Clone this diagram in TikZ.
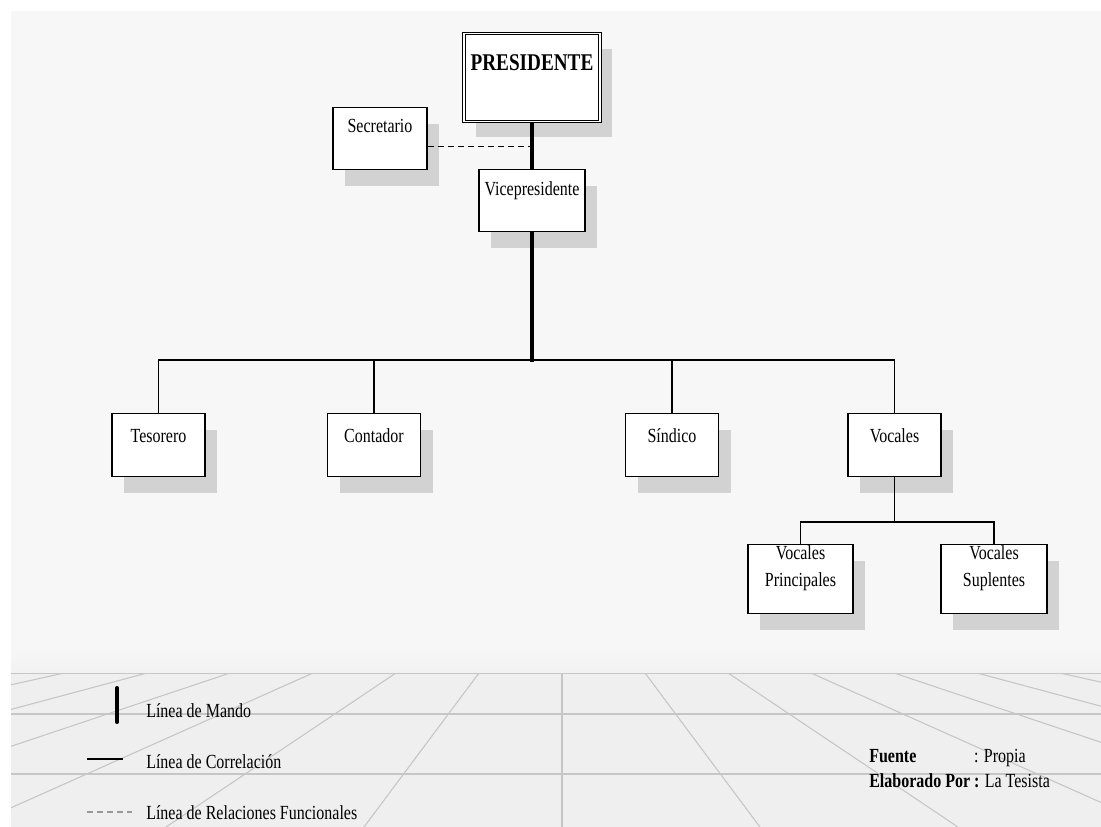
\documentclass[tikz,border=0pt]{standalone}
\usepackage{fontspec}
\setmainfont{Liberation Serif}[FakeStretch=0.8]
\usetikzlibrary{calc,shadows}

\definecolor{fondo}{HTML}{F7F7F7}
\definecolor{piso}{HTML}{EFEFEF}
\definecolor{rejilla}{HTML}{C6C6C6}
\definecolor{sombra}{HTML}{D2D2D2}

\begin{document}
\begin{tikzpicture}[x=0.75pt, y=-0.75pt,
  cargo/.style={draw=black, line width=1pt, fill=white, inner xsep=0pt, inner ysep=0pt,
    anchor=north, minimum width=69.75pt, text height=21.5pt, text depth=25.75pt,
    align=center, font=\fontsize{15}{20.25}\selectfont,
    drop shadow={shadow xshift=9pt, shadow yshift=-12pt, fill=sombra, opacity=1}},
  mando/.style={line width=3pt},
  correlacion/.style={line width=1pt},
  funcional/.style={line width=1pt, dash pattern=on 4.5pt off 3pt},
  rayapiso/.style={draw=rejilla, line width=0.8pt},
  leyenda/.style={anchor=base west, inner sep=0pt, font=\fontsize{15}{18}\selectfont}]

  % Background and floor
  \useasboundingbox (0,0) rectangle (1101,827);
  \fill[white] (0,0) rectangle (1101,827);
  \fill[fondo] (11,11) rectangle (1101,827);
  \shade[top color=fondo, bottom color=piso!60!fondo] (11,645) rectangle (1101,673);
  \fill[piso] (11,673) rectangle (1101,827);
  \begin{scope}
    \clip (11,673) rectangle (1101,827);
    \foreach \k in {-6,...,6}
      \draw[rayapiso] ({562+83*\k},673) -- ({562+198*\k},827);
    \foreach \h in {673,714,774}
      \draw[rayapiso] (11,\h) -- (1101,\h);
  \end{scope}

  % Cargos
  \node[cargo, double, double distance=1.2pt, line width=0.6pt, minimum width=102pt,
    text height=27.75pt, text depth=38.25pt, font=\fontsize{18}{22}\selectfont\bfseries]
    (pres) at (532,33) {PRESIDENTE};
  \node[cargo, minimum width=70.5pt, text height=18.5pt, text depth=28pt] (sec) at (380,107) {Secretario};
  \node[cargo, minimum width=79.5pt, text height=19.2pt, text depth=27.3pt] (vice) at (532,169) {Vicepresidente};

  \node[cargo] (tes)  at (158.5,413) {Tesorero};
  \node[cargo] (cont) at (374,413)   {Contador};
  \node[cargo] (sind) at (672,413)   {Síndico};
  \node[cargo] (voc)  at (894.5,413) {Vocales};

  \node[cargo, minimum width=78.75pt, text height=31.5pt, text depth=20.25pt] (vprin) at (800.5,544) {Vocales\\Principales};
  \node[cargo, minimum width=79.5pt, text height=31.5pt, text depth=20.25pt] (vsup) at (994,544) {Vocales\\Suplentes};

  % Lineas de mando
  \coordinate (J) at (532,360);
  \draw[mando] (pres.south) -- (vice.north);
  \draw[mando] (vice.south) -- ([yshift=-1.5pt]J);

  % Relacion funcional
  \draw[funcional] ([yshift=-6pt]sec.east) -- ([yshift=-6pt]sec.east -| pres.south);

  % Lineas de correlacion
  \draw[correlacion] (tes.north) |- (J) -| (voc.north);
  \draw[correlacion] (cont.north) -- (cont.north |- J);
  \draw[correlacion] (sind.north) -- (sind.north |- J);
  \coordinate (JV) at (894.5,522);
  \draw[correlacion] (voc.south) -- (JV);
  \draw[correlacion] (vprin.north) |- (JV) -| (vsup.north);

  % Leyenda
  \draw[line width=3pt, line cap=round] (117,688) -- (117,722);
  \node[leyenda] (lmando) at (146,717.5) {Línea de Mando};
  \draw[correlacion] (87,759) -- (123,759);
  \node[leyenda] (lcorr) at (146,768.5) {Línea de Correlación};
  \draw[funcional, draw=gray!80] (87,812) -- (132,812);
  \node[leyenda] (lfunc) at (146,819.5) {Línea de Relaciones Funcionales};

  % Fuente
  \node[leyenda, font=\fontsize{15}{18.75}\selectfont] (fuente) at (869,762)
    {\begin{tabular}[t]{@{}l@{ }l@{}}
      \textbf{Fuente} & : Propia\\
      \textbf{Elaborado Por} & \textbf{:} La Tesista
    \end{tabular}};

\end{tikzpicture}
\end{document}
